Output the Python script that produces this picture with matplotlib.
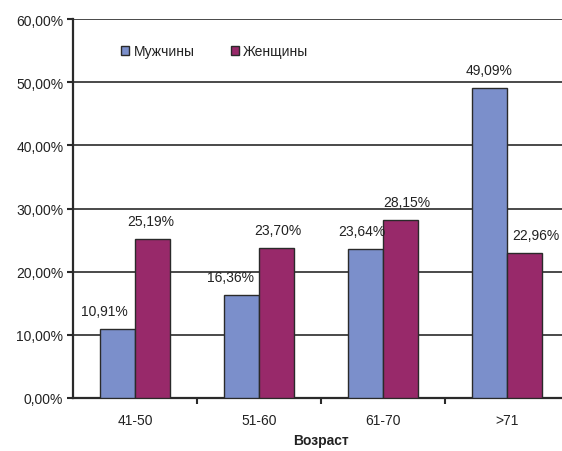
import matplotlib
matplotlib.use("Agg")
import matplotlib.pyplot as plt
import numpy as np
from matplotlib.ticker import FuncFormatter, FixedLocator

plt.rcParams['font.family'] = ['Liberation Sans', 'DejaVu Sans']

categories = ["41-50", "51-60", "61-70", ">71"]
men = [10.91, 16.36, 23.64, 49.09]
women = [25.19, 23.70, 28.15, 22.96]
series_names = ["Мужчины", "Женщины"]
xlabel = "Возраст"

# label offsets in pixels (style only)
men_dx = [-13, -11, -4, -1]
women_dx = [-2, 2, 6, 12]

c_men = "#7b8fcb"
c_women = "#98296a"
edge = "#2a2a2a"

fig = plt.figure(figsize=(5.62, 4.52), dpi=100)
ax = fig.add_axes([73/562, 1-399/452, (569-73)/562, (399-20)/452])

x = np.arange(len(categories))
w = 0.28
b1 = ax.bar(x - w/2, men, w, color=c_men, edgecolor=edge, linewidth=1.0, label=series_names[0], zorder=3)
b2 = ax.bar(x + w/2, women, w, color=c_women, edgecolor=edge, linewidth=1.0, label=series_names[1], zorder=3)

def fmt(v):
    return f"{v:.2f}%".replace(".", ",")

for rects, vals, dxs in ((b1, men, men_dx), (b2, women, women_dx)):
    for r, v, dx in zip(rects, vals, dxs):
        ax.annotate(fmt(v), (r.get_x() + r.get_width()/2, v),
                    xytext=(dx*0.72, 8), textcoords="offset points",
                    ha="center", va="bottom", fontsize=10, color="#222222")

ax.set_xlim(-0.5, 3.5)
ax.set_ylim(0, 60)
ax.set_yticks(np.arange(0, 61, 10))
ax.yaxis.set_major_formatter(FuncFormatter(lambda v, p: f"{v:.2f}%".replace(".", ",")))
ax.set_xticks(x)
ax.set_xticklabels(categories)
ax.xaxis.set_minor_locator(FixedLocator([0.5, 1.5, 2.5]))
ax.tick_params(axis="x", which="major", length=0, pad=11, labelsize=10, labelcolor="#222222")
ax.tick_params(axis="x", which="minor", length=4, width=1.5, color=edge)
ax.tick_params(axis="y", length=4, width=1.5, color=edge, labelsize=10, labelcolor="#222222", pad=3)

ax.grid(axis="y", color="#3a3a3a", linewidth=1.3, zorder=0)
ax.set_axisbelow(True)
for s in ("top", "right"):
    ax.spines[s].set_visible(False)
for s in ("left", "bottom"):
    ax.spines[s].set_color(edge)
    ax.spines[s].set_linewidth(1.6)

ax.set_xlabel(xlabel, fontsize=10, fontweight="bold", color="#222222", labelpad=4)

leg = ax.legend(loc="upper left", bbox_to_anchor=(121/562, 1-45/452), bbox_transform=fig.transFigure,
                ncol=2, frameon=False, fontsize=10, handlelength=0.6, handleheight=0.6,
                handletextpad=0.3, columnspacing=2.6, borderaxespad=0, borderpad=0)
for t in leg.get_texts():
    t.set_color("#222222")

fig.savefig("out.png", dpi=100)
